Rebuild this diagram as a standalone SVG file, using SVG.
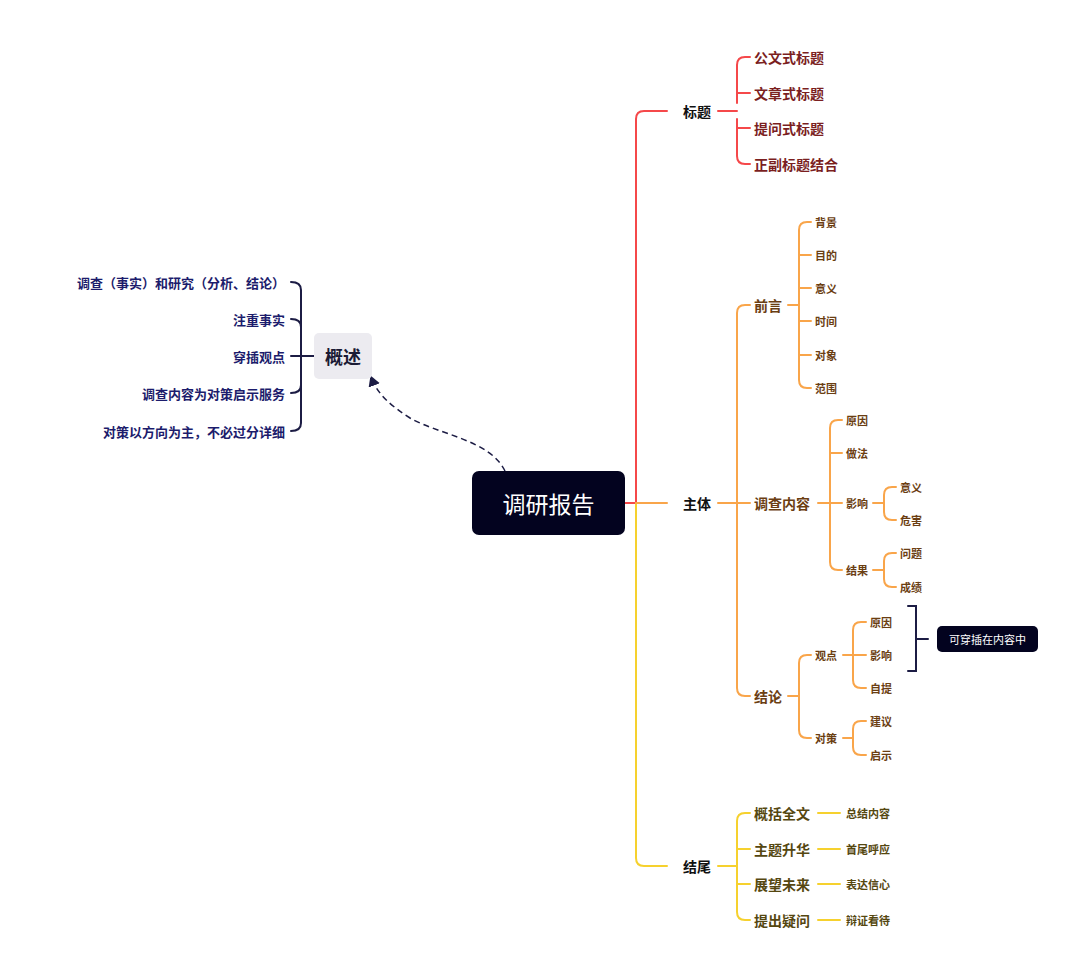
<svg xmlns="http://www.w3.org/2000/svg" width="1080" height="977" viewBox="0 0 1080 977">
<style>
text{font-family:"Noto Sans CJK SC","Noto Sans",sans-serif;font-weight:bold;dominant-baseline:central}
.c{fill:none;stroke-width:2;stroke-linecap:round}
.r{stroke:#f5484a}.o{stroke:#f9a54a}.y{stroke:#f6d12e}.k{stroke:#1c1c44}
.t1{font-size:14px;fill:#111}
.tr{font-size:14px;fill:#7b1f1f}
.to{font-size:14px;fill:#6b3e12}
.ts{font-size:11px;fill:#6b3e12}
.ty{font-size:14px;fill:#554710}
.tys{font-size:11px;fill:#554710}
.tn{font-size:13px;fill:#1c1c6c}
</style>
<defs><marker id="ah" markerWidth="8" markerHeight="8" refX="6" refY="4" orient="auto"><path d="M0,0 L7,4 L0,8 Z" fill="#1c1c44"/></marker></defs>
<rect width="1080" height="977" fill="#fff"/>
<g id="connectors">
<path class="c r" d="M625,503 H636 V119 Q636,111 644,111 H667"/>
<path class="c y" d="M636,503 V858 Q636,866 644,866 H667"/>
<path class="c o" d="M636,503 H667"/>
<path class="c r" d="M718,111 H737 M737,103 V65 Q737,57 745,57 H750 M737,93 H750 M737,128 H750 M737,119 V156 Q737,164 745,164 H750"/>
<path class="c o" d="M718,503 H750 M737,313 Q737,305 745,305 H750 M737,313 V688 Q737,696 745,696 H750"/>
<path class="c o" d="M788,305 H799 M799,230 Q799,222 807,222 H811 M799,230 V380 Q799,388 807,388 H811 M799,255 H811 M799,288 H811 M799,321 H811 M799,355 H811"/>
<path class="c o" d="M818,503 H842 M830,428 Q830,420 838,420 H842 M830,428 V562 Q830,570 838,570 H842 M830,453 H842"/>
<path class="c o" d="M873,503 H884 M884,495 Q884,487 892,487 H896 M884,495 V512 Q884,520 892,520 H896"/>
<path class="c o" d="M873,570 H884 M884,561 Q884,553 892,553 H896 M884,561 V579 Q884,587 892,587 H896"/>
<path class="c o" d="M788,696 H799 M799,663 Q799,655 807,655 H811 M799,663 V730 Q799,738 807,738 H811"/>
<path class="c o" d="M843,655 H866 M853,630 Q853,622 861,622 H866 M853,630 V680 Q853,688 861,688 H866"/>
<path class="c o" d="M843,738 H853 M853,729 Q853,721 861,721 H866 M853,729 V747 Q853,755 861,755 H866"/>
<path class="c k" d="M908,606 H916 V671 H908 M916,639 H928"/>
<path class="c y" d="M718,866 H737 M737,821 Q737,813 745,813 H750 M737,821 V912 Q737,920 745,920 H750 M737,849 H750 M737,884 H750"/>
<path class="c y" d="M818,813 H840 M818,849 H840 M818,884 H840 M818,920 H840"/>
<path class="c k" d="M299,356 H314 M291,282 Q301,282 301,290 V423 Q301,431 291,431 M291,319 Q301,319 301,327 M291,393 Q301,393 301,385 M291,356 H301"/>
<path d="M505,471 C490,440 440,435 410,418 C390,405 378,395 371,377" fill="none" stroke="#1c1c44" stroke-width="1.5" stroke-dasharray="6,4" marker-end="url(#ah)"/>
</g>
<g id="root"><rect x="472" y="471" width="153" height="64" rx="7" fill="#03031f"/><text x="548.5" y="503" text-anchor="middle" style="font-size:23px;font-weight:normal;fill:#fff">调研报告</text></g>
<g id="n-title"><text class="t1" x="683" y="111">标题</text></g>
<g id="n-body"><text class="t1" x="683" y="503">主体</text></g>
<g id="n-end"><text class="t1" x="683" y="866">结尾</text></g>
<g id="n-t1"><text class="tr" x="754" y="57">公文式标题</text></g>
<g id="n-t2"><text class="tr" x="754" y="93">文章式标题</text></g>
<g id="n-t3"><text class="tr" x="754" y="128">提问式标题</text></g>
<g id="n-t4"><text class="tr" x="754" y="164">正副标题结合</text></g>
<g id="n-qy"><text class="to" x="754" y="305">前言</text></g>
<g id="n-dc"><text class="to" x="754" y="503">调查内容</text></g>
<g id="n-jl"><text class="to" x="754" y="696">结论</text></g>
<g id="n-q1"><text class="ts" x="815" y="222">背景</text></g>
<g id="n-q2"><text class="ts" x="815" y="255">目的</text></g>
<g id="n-q3"><text class="ts" x="815" y="288">意义</text></g>
<g id="n-q4"><text class="ts" x="815" y="321">时间</text></g>
<g id="n-q5"><text class="ts" x="815" y="355">对象</text></g>
<g id="n-q6"><text class="ts" x="815" y="388">范围</text></g>
<g id="n-d1"><text class="ts" x="846" y="420">原因</text></g>
<g id="n-d2"><text class="ts" x="846" y="453">做法</text></g>
<g id="n-d3"><text class="ts" x="846" y="503">影响</text></g>
<g id="n-d4"><text class="ts" x="846" y="570">结果</text></g>
<g id="n-d31"><text class="ts" x="900" y="487">意义</text></g>
<g id="n-d32"><text class="ts" x="900" y="520">危害</text></g>
<g id="n-d41"><text class="ts" x="900" y="553">问题</text></g>
<g id="n-d42"><text class="ts" x="900" y="587">成绩</text></g>
<g id="n-j1"><text class="ts" x="815" y="655">观点</text></g>
<g id="n-j2"><text class="ts" x="815" y="738">对策</text></g>
<g id="n-j11"><text class="ts" x="870" y="622">原因</text></g>
<g id="n-j12"><text class="ts" x="870" y="655">影响</text></g>
<g id="n-j13"><text class="ts" x="870" y="688">自提</text></g>
<g id="n-j21"><text class="ts" x="870" y="721">建议</text></g>
<g id="n-j22"><text class="ts" x="870" y="755">启示</text></g>
<g id="n-note"><rect x="937" y="626" width="101" height="26" rx="5" fill="#03031f"/><text x="987.5" y="639" text-anchor="middle" style="font-size:11px;font-weight:normal;fill:#fff">可穿插在内容中</text></g>
<g id="n-e1"><text class="ty" x="754" y="813">概括全文</text><text class="tys" x="846" y="813">总结内容</text></g>
<g id="n-e2"><text class="ty" x="754" y="849">主题升华</text><text class="tys" x="846" y="849">首尾呼应</text></g>
<g id="n-e3"><text class="ty" x="754" y="884">展望未来</text><text class="tys" x="846" y="884">表达信心</text></g>
<g id="n-e4"><text class="ty" x="754" y="920">提出疑问</text><text class="tys" x="846" y="920">辩证看待</text></g>
<g id="n-gs"><rect x="314" y="333" width="58" height="46" rx="5" fill="#ecebf0"/><text x="343" y="356" text-anchor="middle" style="font-size:18px;fill:#1a1a34">概述</text></g>
<g id="n-g1"><text class="tn" x="285" y="282" text-anchor="end">调查（事实）和研究（分析、结论）</text></g>
<g id="n-g2"><text class="tn" x="285" y="319" text-anchor="end">注重事实</text></g>
<g id="n-g3"><text class="tn" x="285" y="356" text-anchor="end">穿插观点</text></g>
<g id="n-g4"><text class="tn" x="285" y="393" text-anchor="end">调查内容为对策启示服务</text></g>
<g id="n-g5"><text class="tn" x="285" y="431" text-anchor="end">对策以方向为主，不必过分详细</text></g>
</svg>
